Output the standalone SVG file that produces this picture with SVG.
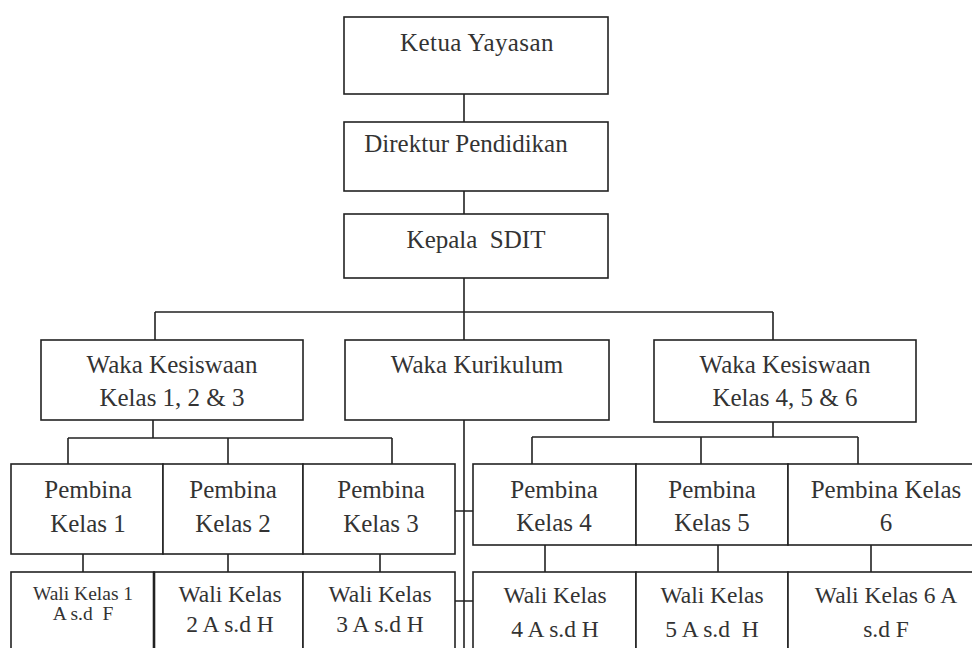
<svg xmlns="http://www.w3.org/2000/svg" width="972" height="648" viewBox="0 0 972 648">
<style>
.box{fill:#fff;stroke:#222;stroke-width:1.6}
.ln{fill:none;stroke:#222;stroke-width:1.6}
text{font-size:25px;fill:#333;text-anchor:middle;white-space:pre}
.w{font-size:23.5px}
.ws{font-size:19.5px}
</style>
<rect width="972" height="648" fill="#fff"/>
<g id="connectors">
<path class="ln" d="M464 94V122M464 191V214M464 278V340M155 312H773M155 312V340M773 312V340"/>
<path class="ln" d="M153 420V438M68 438H392M68 438V464M228 438V464M392 438V464"/>
<path class="ln" d="M773 422V437M532 437H858M532 437V464M701 437V464M858 437V464"/>
<path class="ln" d="M83 554V572M228 554V572M380 554V572M545 545V572M718 545V572M871 545V572"/>
<path class="ln" d="M464 420V648M455 511H473M455 601H473"/>
</g>
<g font-family="'Liberation Serif', 'Times New Roman', 'DejaVu Serif', serif">
<g id="ketua"><rect class="box" x="344" y="17" width="264" height="77"/><text x="477" y="51" letter-spacing="0.4">Ketua Yayasan</text></g>
<g id="direktur"><rect class="box" x="344" y="122" width="264" height="69"/><text x="466" y="152">Direktur Pendidikan</text></g>
<g id="kepala"><rect class="box" x="344" y="214" width="264" height="64"/><text x="476" y="248">Kepala  SDIT</text></g>
<g id="waka-kes-1"><rect class="box" x="41" y="340" width="262" height="80"/><text x="172" y="373">Waka Kesiswaan</text><text x="172" y="406">Kelas 1, 2 &amp; 3</text></g>
<g id="waka-kur"><rect class="box" x="345" y="340" width="264" height="80"/><text x="477" y="373">Waka Kurikulum</text></g>
<g id="waka-kes-2"><rect class="box" x="654" y="340" width="262" height="82"/><text x="785" y="373">Waka Kesiswaan</text><text x="785" y="406">Kelas 4, 5 &amp; 6</text></g>
<g id="pembina-1"><rect class="box" x="11" y="464" width="152" height="90"/><text x="88" y="498">Pembina</text><text x="88" y="532">Kelas 1</text></g>
<g id="pembina-2"><rect class="box" x="163" y="464" width="140" height="90"/><text x="233" y="498">Pembina</text><text x="233" y="532">Kelas 2</text></g>
<g id="pembina-3"><rect class="box" x="303" y="464" width="152" height="90"/><text x="381" y="498">Pembina</text><text x="381" y="532">Kelas 3</text></g>
<g id="pembina-4"><rect class="box" x="473" y="464" width="163" height="81"/><text x="554" y="498">Pembina</text><text x="554" y="531">Kelas 4</text></g>
<g id="pembina-5"><rect class="box" x="636" y="464" width="152" height="81"/><text x="712" y="498">Pembina</text><text x="712" y="531">Kelas 5</text></g>
<g id="pembina-6"><rect class="box" x="788" y="464" width="196" height="81"/><text x="886" y="498">Pembina Kelas</text><text x="886" y="531">6</text></g>
<g id="wali-1"><rect class="box" x="11" y="572" width="143" height="90"/><text class="ws" x="83" y="600">Wali Kelas 1</text><text class="ws" x="83" y="620">A s.d  F</text></g>
<g id="wali-2"><rect class="box" x="154" y="572" width="149" height="90"/><line x1="154" y1="572" x2="154" y2="662" stroke="#222" stroke-width="2.6"/><text class="w" x="230" y="602">Wali Kelas</text><text class="w" x="230" y="632">2 A s.d H</text></g>
<g id="wali-3"><rect class="box" x="303" y="572" width="152" height="90"/><text class="w" x="380" y="602">Wali Kelas</text><text class="w" x="380" y="632">3 A s.d H</text></g>
<g id="wali-4"><rect class="box" x="473" y="572" width="163" height="90"/><text class="w" x="555" y="603">Wali Kelas</text><text class="w" x="555" y="637">4 A s.d H</text></g>
<g id="wali-5"><rect class="box" x="636" y="572" width="152" height="90"/><text class="w" x="712" y="603">Wali Kelas</text><text class="w" x="712" y="637">5 A s.d  H</text></g>
<g id="wali-6"><rect class="box" x="788" y="572" width="196" height="90"/><text class="w" x="886" y="603">Wali Kelas 6 A</text><text class="w" x="886" y="637">s.d F</text></g>
</g>
</svg>
